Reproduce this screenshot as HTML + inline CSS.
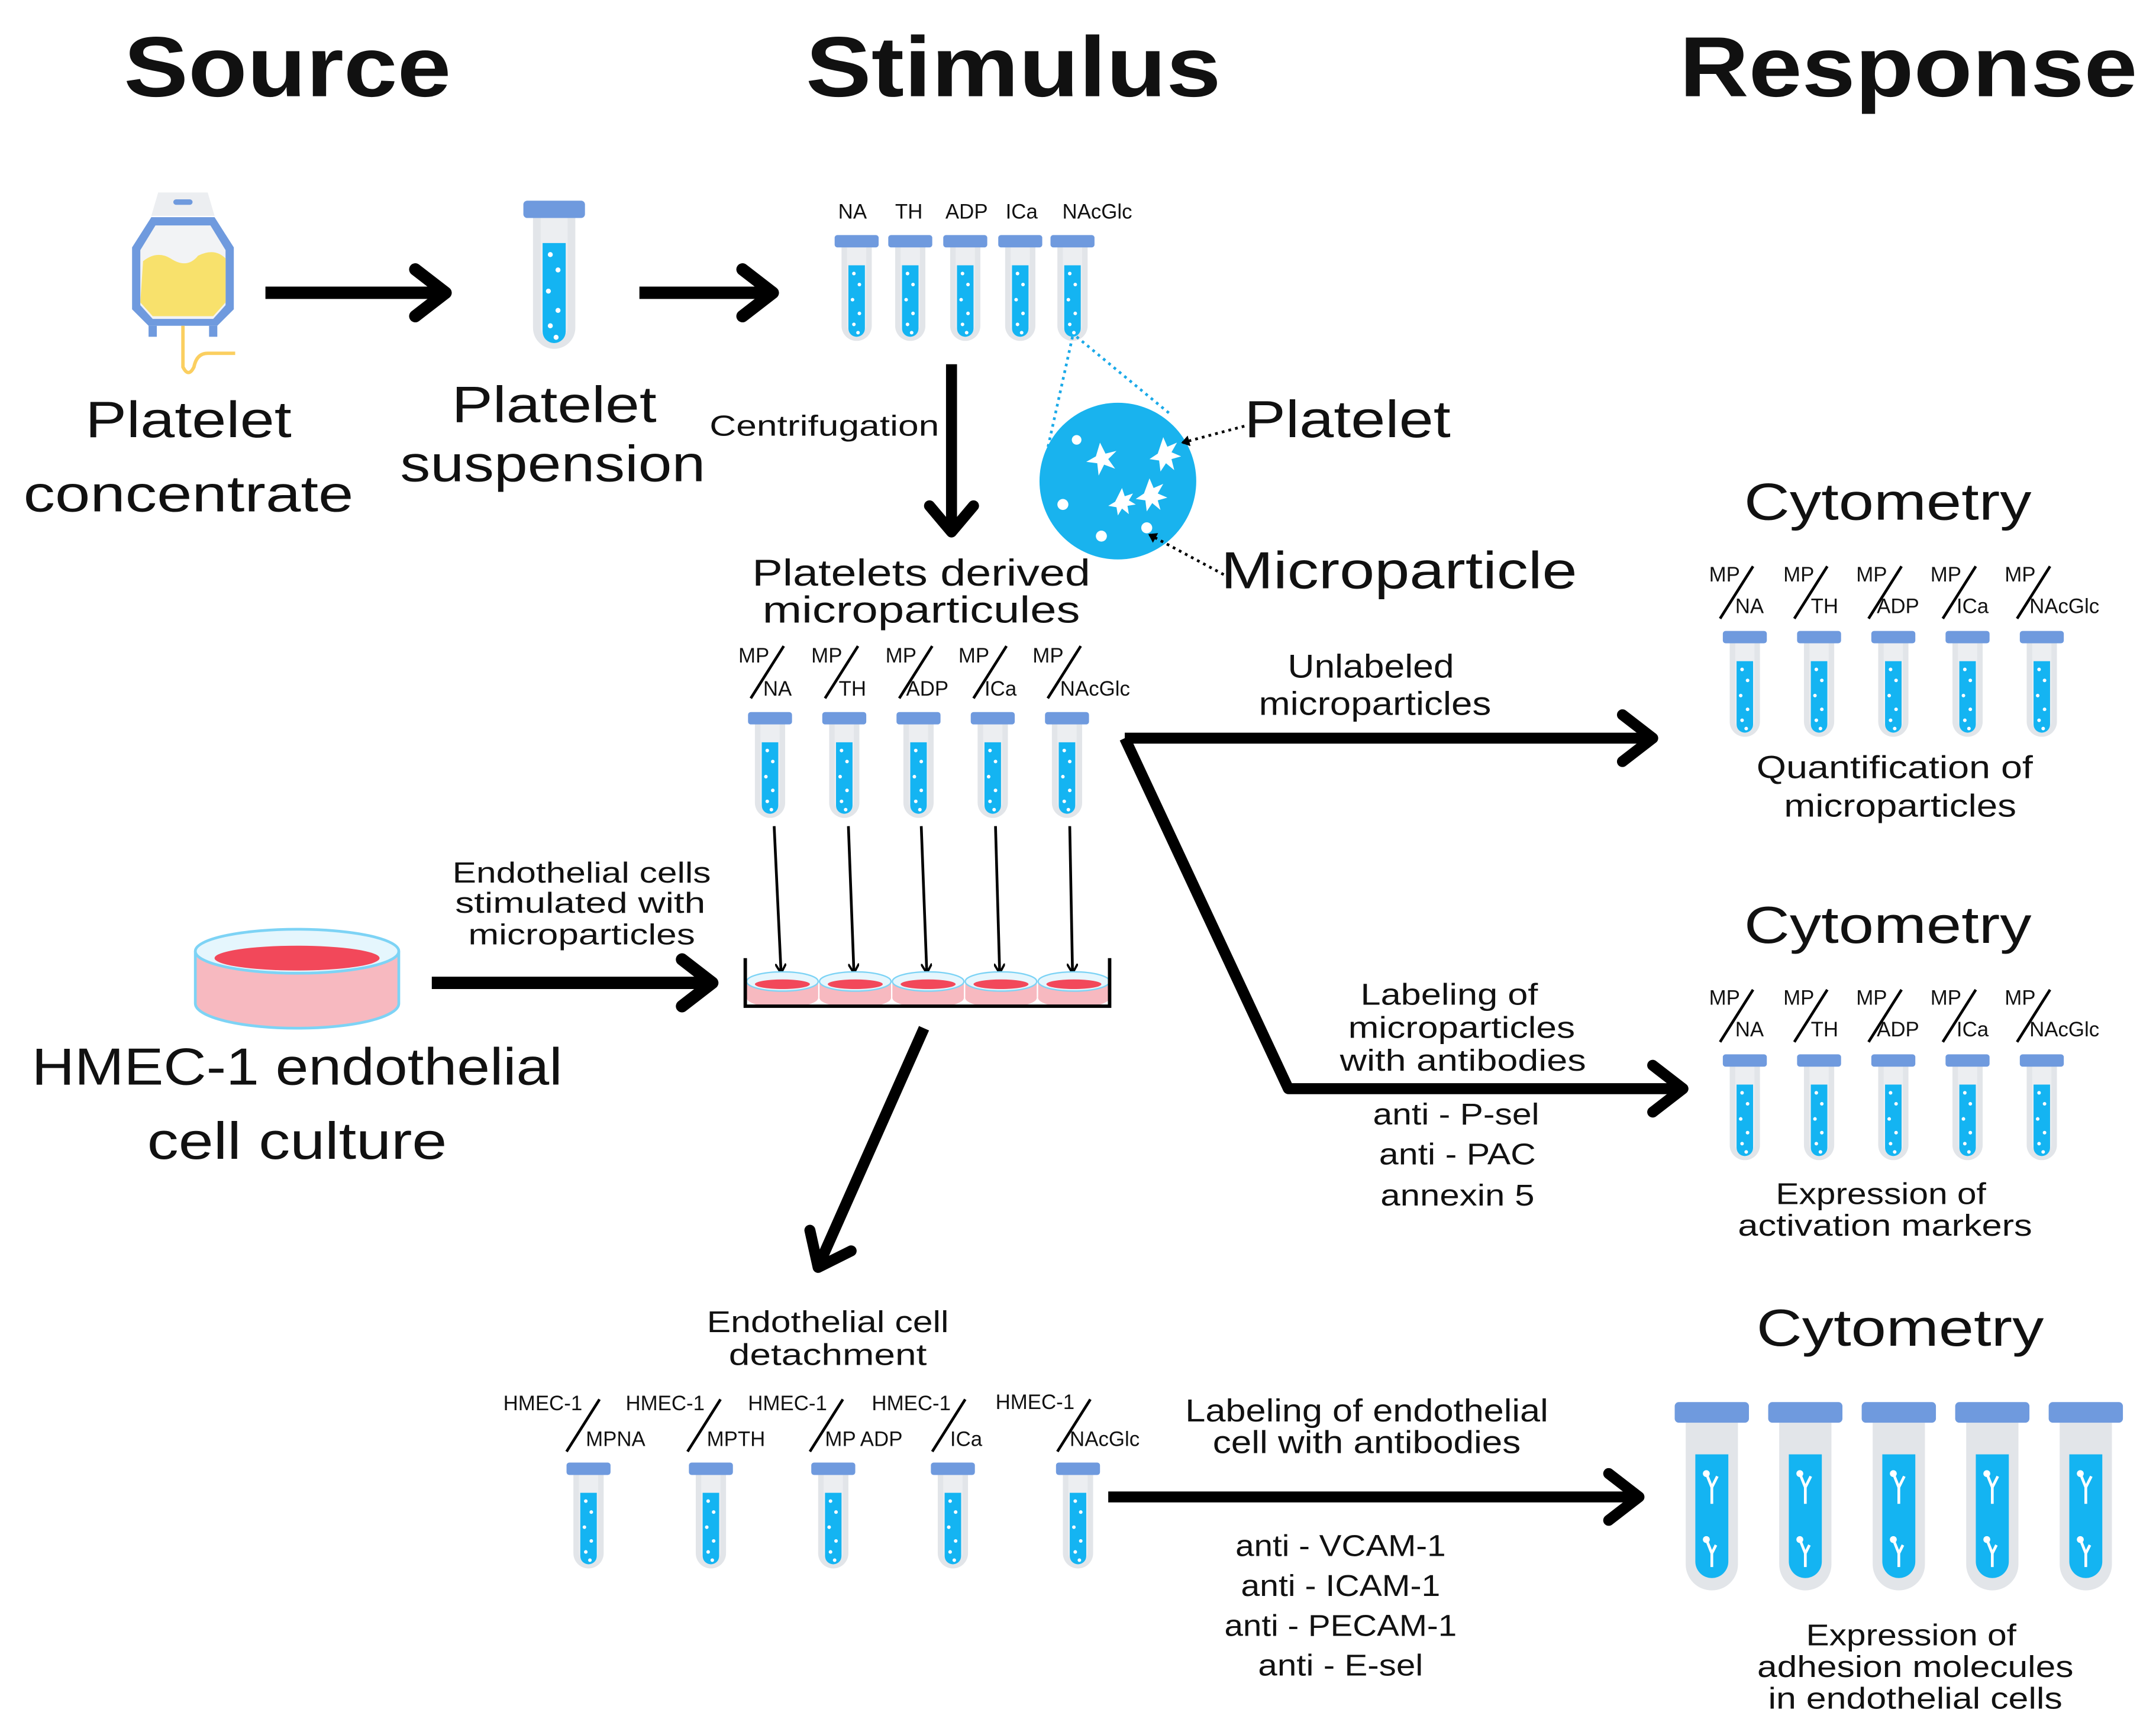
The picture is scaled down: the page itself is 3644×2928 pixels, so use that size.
<!DOCTYPE html>
<html><head><meta charset="utf-8"><style>
html,body{margin:0;padding:0;background:#fff}
svg{display:block}
text{font-family:"Liberation Sans",sans-serif;fill:#111}
</style></head><body>
<svg width="3644" height="2928" viewBox="0 0 1568 1260" xmlns="http://www.w3.org/2000/svg">
<defs>
<g id="t">
<path d="M-11 8 H11 V66 A11 11 0 0 1 -11 66 Z" fill="#e2e5e9"/>
<path d="M-7 8 H7 V66 A7 7 0 0 1 -7 66 Z" fill="#eceef1"/>
<path d="M-6 22 H6 V68 A6 6 0 0 1 -6 68 Z" fill="#14b4f2"/>
<rect x="-16" y="0" width="32" height="9" rx="2" fill="#6f9ade"/>
<circle cx="-2" cy="28" r="1.3" fill="#fff"/><circle cx="2" cy="36" r="1.3" fill="#fff"/><circle cx="-3" cy="47" r="1.3" fill="#fff"/><circle cx="2" cy="57" r="1.3" fill="#fff"/><circle cx="-2" cy="65" r="1.3" fill="#fff"/><circle cx="1" cy="71" r="1.3" fill="#fff"/>
</g>
<g id="T">
<path d="M-19 15 H19 V118 A19 19 0 0 1 -19 118 Z" fill="#e2e5e9"/>
<path d="M-12 38 H12 V116 A12 12 0 0 1 -12 116 Z" fill="#14b4f2"/>
<rect x="-27" y="0" width="54" height="15" rx="3" fill="#6f9ade"/>
<path d="M-4 52 l4 10 l4 -8 M0 62 v12" stroke="#fff" stroke-width="2" fill="none"/><circle cx="-4" cy="52" r="2.5" fill="#fff"/>
<path d="M-4 100 l4 10 l3 -6 M0 110 v10" stroke="#fff" stroke-width="2" fill="none"/><circle cx="-4" cy="100" r="2.5" fill="#fff"/>
</g>
<g id="d">
<ellipse cx="0" cy="12" rx="26" ry="7" fill="#f7b9c0"/>
<rect x="-26" y="0" width="52" height="12" fill="#f7b9c0"/>
<ellipse cx="0" cy="0" rx="26" ry="7" fill="#e5f6fd" stroke="#7dd3f5" stroke-width="1"/>
<ellipse cx="0" cy="2" rx="20" ry="3.5" fill="#f2485a"/>
</g>
<marker id="ah" markerWidth="8" markerHeight="8" refX="6" refY="4" orient="auto" markerUnits="userSpaceOnUse"><path d="M0 0 L7 4 L0 8" fill="none" stroke="#000" stroke-width="1.6"/></marker>
<marker id="sm" markerWidth="8" markerHeight="8" refX="5" refY="4" orient="auto" markerUnits="userSpaceOnUse"><path d="M0 0 L6 4 L0 8 Z" fill="#000"/></marker>
</defs>

<!-- headers -->
<g font-size="62" font-weight="bold" text-anchor="middle">
<text x="209" y="70" textLength="238" lengthAdjust="spacingAndGlyphs">Source</text>
<text x="737" y="70" textLength="302" lengthAdjust="spacingAndGlyphs">Stimulus</text>
<text x="1388" y="70" textLength="333" lengthAdjust="spacingAndGlyphs">Response</text>
</g>

<!-- blood bag -->
<g>
<path d="M115 140 h36 l5 17 h-46z" fill="#eceef1"/>
<rect x="126" y="145" width="14" height="4" rx="2" fill="#6f9ade"/>
<path d="M110 158 h46 l14 22 v45 l-12 12 h-50 l-12 -12 v-45z" fill="#6f9ade"/>
<path d="M113 164 h40 l11 18 v40 l-9 10 h-44 l-9 -10 v-40z" fill="#f2f3f5"/>
<path d="M104 190 q10 -8 20 -2 q12 8 20 -2 q12 -6 20 2 v32 l-9 10 h-44 l-9 -10z" fill="#f8e16c"/>
<rect x="108" y="237" width="6" height="8" fill="#6f9ade"/><rect x="152" y="237" width="6" height="8" fill="#6f9ade"/>
<path d="M133 237 v30 q4 8 8 0 q2 -10 10 -10 h20" stroke="#fbcf60" stroke-width="2.5" fill="none"/>
</g>
<g font-size="37" text-anchor="middle">
<text x="137" y="318" textLength="150" lengthAdjust="spacingAndGlyphs">Platelet</text>
<text x="137" y="372" textLength="240" lengthAdjust="spacingAndGlyphs">concentrate</text>
<text x="403" y="307" textLength="149" lengthAdjust="spacingAndGlyphs">Platelet</text>
<text x="402" y="350" textLength="222" lengthAdjust="spacingAndGlyphs">suspension</text>
</g>

<!-- arrows top -->
<path d="M193 213 H322" stroke="#000" stroke-width="9"/><path d="M302 196 L324 213 L302 230" stroke="#000" stroke-width="9" fill="none" stroke-linecap="round" stroke-linejoin="round"/>
<path d="M465 213 H560" stroke="#000" stroke-width="9"/><path d="M540 196 L562 213 L540 230" stroke="#000" stroke-width="9" fill="none" stroke-linecap="round" stroke-linejoin="round"/>

<!-- suspension tube -->
<g transform="translate(403,146) scale(1.4)"><use href="#t"/></g>

<!-- stimulus tubes -->
<g font-size="15" text-anchor="middle">
<text x="620" y="159">NA</text><text x="661" y="159">TH</text><text x="703" y="159">ADP</text><text x="743" y="159">ICa</text><text x="798" y="159">NAcGlc</text>
</g>
<use href="#t" x="623" y="171"/><use href="#t" x="662" y="171"/><use href="#t" x="702" y="171"/><use href="#t" x="742" y="171"/><use href="#t" x="780" y="171"/>

<!-- centrifugation -->
<text x="516" y="317" font-size="21" textLength="167" lengthAdjust="spacingAndGlyphs">Centrifugation</text>
<path d="M692 265 V383" stroke="#000" stroke-width="8"/><path d="M676 368 L692 387 L708 368" stroke="#000" stroke-width="8" fill="none" stroke-linecap="round" stroke-linejoin="round"/>

<!-- zoom circle -->
<path d="M780 245 L760 335 M783 245 L852 302" stroke="#1aa9e8" stroke-width="2" stroke-dasharray="2 3"/>
<circle cx="813" cy="350" r="57" fill="#19b3ee"/>
<g fill="#fff">
<path d="M800 322 l4 8 l8 -2 l-6 6 l5 7 l-8 -3 l-4 8 l-1 -9 l-8 -1 l7 -4z"/>
<path d="M846 318 l3 7 l7 -3 l-4 7 l7 3 l-7 2 l2 8 l-6 -5 l-4 6 l-1 -8 l-7 -1 l6 -4z"/>
<path d="M836 348 l3 7 l7 -3 l-4 7 l7 3 l-7 2 l2 7 l-6 -5 l-4 6 l-1 -8 l-7 -1 l6 -4z"/>
<path d="M816 355 l2 6 l6 -2 l-3 5 l5 3 l-6 1 l1 6 l-5 -4 l-3 5 l-1 -6 l-6 -1 l5 -3z"/>
<circle cx="783" cy="320" r="3.5"/><circle cx="773" cy="367" r="4"/><circle cx="801" cy="390" r="4"/><circle cx="834" cy="384" r="4"/>
</g>
<path d="M905 310 L860 322" stroke="#000" stroke-width="2" stroke-dasharray="2 3" marker-end="url(#sm)"/>
<path d="M890 418 L836 389" stroke="#000" stroke-width="2" stroke-dasharray="2 3" marker-end="url(#sm)"/>
<text x="905" y="318" font-size="38" textLength="150" lengthAdjust="spacingAndGlyphs">Platelet</text>
<text x="888" y="428" font-size="38" textLength="259" lengthAdjust="spacingAndGlyphs">Microparticle</text>

<!-- PDMP -->
<text x="670" y="426" font-size="27" text-anchor="middle" textLength="246" lengthAdjust="spacingAndGlyphs">Platelets derived</text>
<text x="670" y="453" font-size="27" text-anchor="middle" textLength="231" lengthAdjust="spacingAndGlyphs">microparticules</text>
<g font-size="15">
<text x="537" y="482">MP</text><text x="555" y="506">NA</text>
<text x="590" y="482">MP</text><text x="610" y="506">TH</text>
<text x="644" y="482">MP</text><text x="659" y="506">ADP</text>
<text x="697" y="482">MP</text><text x="716" y="506">ICa</text>
<text x="751" y="482">MP</text><text x="771" y="506">NAcGlc</text>
</g>
<g stroke="#000" stroke-width="2">
<path d="M546 508 L570 470"/><path d="M600 508 L624 470"/><path d="M654 508 L678 470"/><path d="M708 508 L732 470"/><path d="M762 508 L786 470"/>
</g>
<use href="#t" x="560" y="518"/><use href="#t" x="614" y="518"/><use href="#t" x="668" y="518"/><use href="#t" x="722" y="518"/><use href="#t" x="776" y="518"/>
<g stroke="#000" stroke-width="2" marker-end="url(#ah)">
<path d="M563 601 L568 707"/><path d="M617 601 L621 707"/><path d="M670 601 L674 707"/><path d="M724 601 L727 707"/><path d="M778 601 L780 707"/>
</g>
<use href="#d" x="569" y="714"/><use href="#d" x="622" y="714"/><use href="#d" x="675" y="714"/><use href="#d" x="728" y="714"/><use href="#d" x="781" y="714"/>
<path d="M542 697 V732 H807 V697" stroke="#000" stroke-width="2.5" fill="none"/>

<!-- HMEC culture -->
<g>
<path d="M142 692 V730 A74 18 0 0 0 290 730 V692" fill="#f7b9c0"/>
<ellipse cx="216" cy="692" rx="74" ry="16" fill="#e5f6fd" stroke="#7dd3f5" stroke-width="2"/>
<ellipse cx="216" cy="697" rx="60" ry="9" fill="#f2485a"/>
<path d="M142 692 V730 A74 18 0 0 0 290 730 V692" fill="none" stroke="#7dd3f5" stroke-width="2"/>
</g>
<text x="216" y="789" font-size="38" text-anchor="middle" textLength="386" lengthAdjust="spacingAndGlyphs">HMEC-1 endothelial</text>
<text x="216" y="843" font-size="38" text-anchor="middle" textLength="218" lengthAdjust="spacingAndGlyphs">cell culture</text>
<g font-size="21" text-anchor="middle">
<text x="423" y="642" textLength="188" lengthAdjust="spacingAndGlyphs">Endothelial cells</text><text x="422" y="664" textLength="182" lengthAdjust="spacingAndGlyphs">stimulated with</text><text x="423" y="687" textLength="165" lengthAdjust="spacingAndGlyphs">microparticles</text>
</g>
<path d="M314 715 H515" stroke="#000" stroke-width="9"/><path d="M496 698 L518 715 L496 732" stroke="#000" stroke-width="9" fill="none" stroke-linecap="round" stroke-linejoin="round"/>

<!-- down-left arrow -->
<path d="M672 748 L597 917" stroke="#000" stroke-width="8"/><path d="M589 895 L595 922 L619 910" stroke="#000" stroke-width="8" fill="none" stroke-linecap="round" stroke-linejoin="round"/>

<!-- right branch -->
<path d="M818 537 H1198" stroke="#000" stroke-width="8"/><path d="M1180 520 L1202 537 L1180 554" stroke="#000" stroke-width="8" fill="none" stroke-linecap="round" stroke-linejoin="round"/>
<path d="M818 537 L937 792 H1220" stroke="#000" stroke-width="8" fill="none" stroke-linejoin="round"/><path d="M1202 775 L1224 792 L1202 809" stroke="#000" stroke-width="8" fill="none" stroke-linecap="round" stroke-linejoin="round"/>
<g font-size="24" text-anchor="middle">
<text x="997" y="493" textLength="121" lengthAdjust="spacingAndGlyphs">Unlabeled</text><text x="1000" y="520" textLength="169" lengthAdjust="spacingAndGlyphs">microparticles</text>
</g>
<g font-size="22" text-anchor="middle">
<text x="1054" y="731" textLength="129" lengthAdjust="spacingAndGlyphs">Labeling of</text><text x="1063" y="755" textLength="165" lengthAdjust="spacingAndGlyphs">microparticles</text><text x="1064" y="779" textLength="179" lengthAdjust="spacingAndGlyphs">with antibodies</text>
<text x="1059" y="818" textLength="121" lengthAdjust="spacingAndGlyphs">anti - P-sel</text><text x="1060" y="847" textLength="114" lengthAdjust="spacingAndGlyphs">anti - PAC</text><text x="1060" y="877" textLength="112" lengthAdjust="spacingAndGlyphs">annexin 5</text>
</g>

<!-- cytometry 1 -->
<text x="1373" y="378" font-size="38" text-anchor="middle" textLength="209" lengthAdjust="spacingAndGlyphs">Cytometry</text>
<g font-size="15">
<text x="1243" y="423">MP</text><text x="1262" y="446">NA</text>
<text x="1297" y="423">MP</text><text x="1317" y="446">TH</text>
<text x="1350" y="423">MP</text><text x="1365" y="446">ADP</text>
<text x="1404" y="423">MP</text><text x="1423" y="446">ICa</text>
<text x="1458" y="423">MP</text><text x="1476" y="446">NAcGlc</text>
</g>
<g stroke="#000" stroke-width="2">
<path d="M1251 450 L1275 412"/><path d="M1305 450 L1329 412"/><path d="M1359 450 L1383 412"/><path d="M1413 450 L1437 412"/><path d="M1467 450 L1491 412"/>
</g>
<use href="#t" x="1269" y="459"/><use href="#t" x="1323" y="459"/><use href="#t" x="1377" y="459"/><use href="#t" x="1431" y="459"/><use href="#t" x="1485" y="459"/>
<g font-size="23" text-anchor="middle"><text x="1378" y="566" textLength="201" lengthAdjust="spacingAndGlyphs">Quantification of</text><text x="1382" y="594" textLength="169" lengthAdjust="spacingAndGlyphs">microparticles</text></g>

<!-- cytometry 2 -->
<text x="1373" y="686" font-size="38" text-anchor="middle" textLength="209" lengthAdjust="spacingAndGlyphs">Cytometry</text>
<g font-size="15">
<text x="1243" y="731">MP</text><text x="1262" y="754">NA</text>
<text x="1297" y="731">MP</text><text x="1317" y="754">TH</text>
<text x="1350" y="731">MP</text><text x="1365" y="754">ADP</text>
<text x="1404" y="731">MP</text><text x="1423" y="754">ICa</text>
<text x="1458" y="731">MP</text><text x="1476" y="754">NAcGlc</text>
</g>
<g stroke="#000" stroke-width="2">
<path d="M1251 758 L1275 720"/><path d="M1305 758 L1329 720"/><path d="M1359 758 L1383 720"/><path d="M1413 758 L1437 720"/><path d="M1467 758 L1491 720"/>
</g>
<use href="#t" x="1269" y="767"/><use href="#t" x="1323" y="767"/><use href="#t" x="1377" y="767"/><use href="#t" x="1431" y="767"/><use href="#t" x="1485" y="767"/>
<g font-size="22" text-anchor="middle"><text x="1368" y="876" textLength="153" lengthAdjust="spacingAndGlyphs">Expression of</text><text x="1371" y="899" textLength="214" lengthAdjust="spacingAndGlyphs">activation markers</text></g>

<!-- detachment -->
<g font-size="22" text-anchor="middle"><text x="602" y="969" textLength="176" lengthAdjust="spacingAndGlyphs">Endothelial cell</text><text x="602" y="993" textLength="144" lengthAdjust="spacingAndGlyphs">detachment</text></g>
<g font-size="15">
<text x="366" y="1026">HMEC-1</text><text x="426" y="1052">MPNA</text>
<text x="455" y="1026">HMEC-1</text><text x="514" y="1052">MPTH</text>
<text x="544" y="1026">HMEC-1</text><text x="600" y="1052">MP ADP</text>
<text x="634" y="1026">HMEC-1</text><text x="691" y="1052">ICa</text>
<text x="724" y="1025">HMEC-1</text><text x="778" y="1052">NAcGlc</text>
</g>
<g stroke="#000" stroke-width="2">
<path d="M412 1056 L436 1018"/><path d="M500 1056 L524 1018"/><path d="M589 1056 L613 1018"/><path d="M678 1056 L702 1018"/><path d="M769 1056 L793 1018"/>
</g>
<use href="#t" x="428" y="1064"/><use href="#t" x="517" y="1064"/><use href="#t" x="606" y="1064"/><use href="#t" x="693" y="1064"/><use href="#t" x="784" y="1064"/>
<path d="M806 1089 H1188" stroke="#000" stroke-width="8"/><path d="M1170 1072 L1192 1089 L1170 1106" stroke="#000" stroke-width="8" fill="none" stroke-linecap="round" stroke-linejoin="round"/>
<g font-size="23" text-anchor="middle"><text x="994" y="1034" textLength="264" lengthAdjust="spacingAndGlyphs">Labeling of endothelial</text><text x="994" y="1057" textLength="224" lengthAdjust="spacingAndGlyphs">cell with antibodies</text></g>
<g font-size="22" text-anchor="middle">
<text x="975" y="1132" textLength="153" lengthAdjust="spacingAndGlyphs">anti - VCAM-1</text><text x="975" y="1161" textLength="145" lengthAdjust="spacingAndGlyphs">anti - ICAM-1</text><text x="975" y="1190" textLength="169" lengthAdjust="spacingAndGlyphs">anti - PECAM-1</text><text x="975" y="1219" textLength="120" lengthAdjust="spacingAndGlyphs">anti - E-sel</text>
</g>

<!-- cytometry 3 -->
<text x="1382" y="979" font-size="38" text-anchor="middle" textLength="209" lengthAdjust="spacingAndGlyphs">Cytometry</text>
<use href="#T" x="1245" y="1020"/><use href="#T" x="1313" y="1020"/><use href="#T" x="1381" y="1020"/><use href="#T" x="1449" y="1020"/><use href="#T" x="1517" y="1020"/>
<g font-size="22" text-anchor="middle"><text x="1390" y="1197" textLength="153" lengthAdjust="spacingAndGlyphs">Expression of</text><text x="1393" y="1220" textLength="230" lengthAdjust="spacingAndGlyphs">adhesion molecules</text><text x="1393" y="1243" textLength="214" lengthAdjust="spacingAndGlyphs">in endothelial cells</text></g>
</svg>
</body></html>
